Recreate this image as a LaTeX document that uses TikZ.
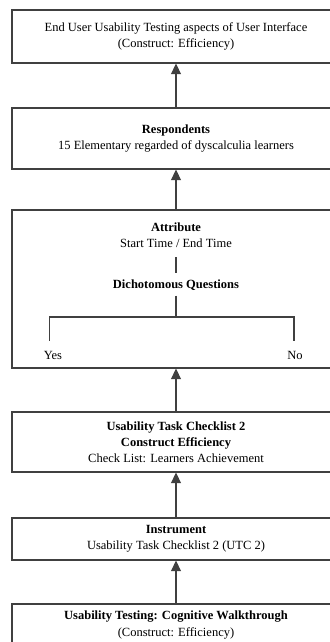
\documentclass[tikz,border=0pt]{standalone}
\usepackage{fontspec}
\setmainfont{Liberation Serif}
\usetikzlibrary{arrows.meta,positioning}
\definecolor{linegray}{RGB}{64,64,64}

\begin{document}
\begin{tikzpicture}[
    x=0.8pt, y=-0.8pt,
    box/.style={draw=linegray, line width=0.9pt, minimum width=262.4pt, minimum height=#1, align=center, font=\fontsize{10}{13}\selectfont, inner sep=2pt},
    txt/.style={align=center, font=\fontsize{10}{13}\selectfont, inner sep=2pt},
    arrow/.style={-{Triangle[length=8.5pt,width=8pt]}, draw=linegray, fill=linegray, line width=0.9pt},
    branch/.style={draw=linegray, line width=0.9pt},
]
\useasboundingbox (0,0) rectangle (330,642);
\clip (0,0) rectangle (330,642);

\node[box=42.4pt] (end) at (176,36.5) {End User Usability Testing aspects of User Interface\\(Construct: Efficiency)};
\node[box=48.8pt] (resp) at (176,138.5) {\textbf{Respondents}\\15 Elementary regarded of dyscalculia learners};
\node[box=126.4pt] (attrbox) at (176,289) {};
\node[box=48pt] (utc) at (176,442) {\textbf{Usability Task Checklist 2}\\\textbf{Construct Efficiency}\\Check List: Learners Achievement};
\node[box=33.6pt] (instr) at (176,539) {\textbf{Instrument}\\Usability Task Checklist 2 (UTC 2)};
\node[box=33.6pt] (walk) at (176,625) {\textbf{Usability Testing: Cognitive Walkthrough}\\(Construct: Efficiency)};

% inside the attribute box
\node[txt] (attr) at (176,235.5) {\textbf{Attribute}\\Start Time / End Time};
\node[txt] (dq) at (176,285) {\textbf{Dichotomous Questions}};
\node[txt] (yes) at (53,355) {Yes};
\node[txt] (no) at (295,355) {No};
\coordinate (br) at (176,317);

\draw[branch] ([yshift=-5pt]attr.south) -- ([yshift=3pt]dq.north);
\draw[branch] ([yshift=-2pt]dq.south) -- (br);
\draw[branch] ([xshift=-2.5pt,yshift=6pt]yes.north) |- (br) -| ([xshift=-0.8pt,yshift=6pt]no.north);

\draw[arrow] (resp) -- (end);
\draw[arrow] (attrbox) -- (resp);
\draw[arrow] (utc) -- (attrbox);
\draw[arrow] (instr) -- (utc);
\draw[arrow] (walk) -- (instr);
\end{tikzpicture}
\end{document}
